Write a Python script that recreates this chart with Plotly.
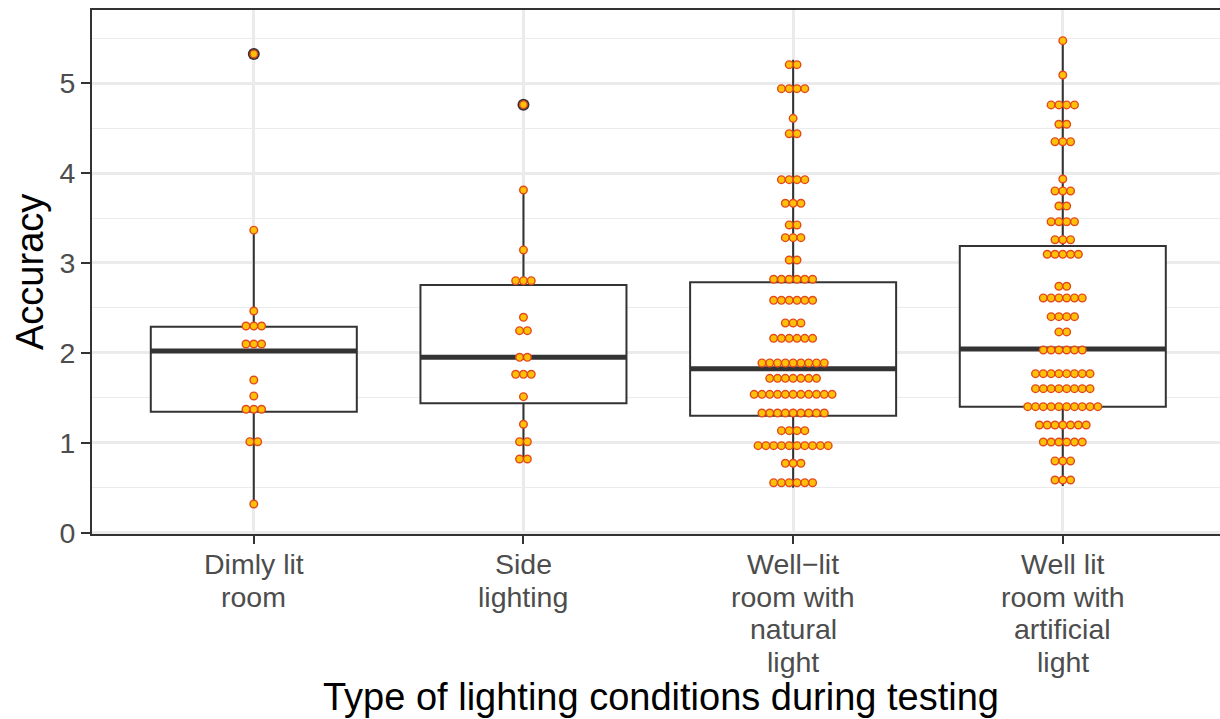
import plotly.graph_objects as go

# Category labels, one entry per text line
category_lines = [
    ["Dimly lit", "room"],
    ["Side", "lighting"],
    ["Well\u2212lit", "room with", "natural", "light"],
    ["Well lit", "room with", "artificial", "light"],
]
category_pos = [1, 2, 3, 4]

# Dot-plot rows: bin level (accuracy) and number of dots stacked in that bin
dim_levels = [5.325, 3.365, 2.466, 2.299, 2.099, 1.698, 1.521, 1.373, 1.012, 0.319]
dim_counts = [1, 1, 1, 3, 3, 1, 1, 3, 2, 1]

side_levels = [4.761, 3.812, 3.145, 2.803, 2.396, 2.247, 1.951, 1.762, 1.513, 1.206, 1.012, 0.820]
side_counts = [1, 1, 1, 3, 1, 2, 2, 3, 1, 1, 2, 2]

natural_levels = [5.206, 4.939, 4.609, 4.438, 3.927, 3.664, 3.423, 3.282, 3.033, 2.819, 2.585,
                  2.333, 2.162, 1.888, 1.717, 1.539, 1.331, 1.135, 0.968, 0.772, 0.556]
natural_counts = [2, 4, 1, 2, 4, 3, 2, 3, 2, 6, 6, 3, 6, 9, 7, 11, 9, 4, 10, 3, 6]

artificial_levels = [5.473, 5.091, 4.758, 4.543, 4.349, 3.934, 3.801, 3.634, 3.459, 3.259, 3.097,
                     2.741, 2.611, 2.403, 2.233, 2.032, 1.769, 1.602, 1.402, 1.198, 1.009, 0.798, 0.586]
artificial_counts = [1, 1, 4, 2, 3, 1, 3, 2, 4, 3, 5, 2, 6, 4, 2, 6, 8, 8, 10, 7, 6, 3, 3]

# Box statistics per category
box_q1 = [1.346, 1.439, 1.302, 1.402]
box_median = [2.021, 1.951, 1.824, 2.043]
box_q3 = [2.290, 2.755, 2.787, 3.189]
box_lower = [0.319, 0.800, 0.500, 0.520]
box_upper = [3.365, 3.830, 5.260, 5.480]

# Outlying observations (category position, value)
outlier_pos = [1, 2]
outlier_value = [5.325, 4.761]

groups = [
    (dim_levels, dim_counts),
    (side_levels, side_counts),
    (natural_levels, natural_counts),
    (artificial_levels, artificial_counts),
]

BOX_WIDTH = 0.764
DOT_STEP = 0.0289          # horizontal distance between neighbouring dots (x units)
INK = "#333333"
GRID = "#EBEBEB"
DOT_FILL = "#FFC107"
DOT_EDGE = "#E2491C"
FONT = "Liberation Sans, Arial, sans-serif"

fig = go.Figure()

# Boxes with whiskers (no caps)
for i, pos in enumerate(category_pos):
    fig.add_trace(go.Box(
        x=[pos], q1=[box_q1[i]], median=[box_median[i]], q3=[box_q3[i]],
        lowerfence=[box_lower[i]], upperfence=[box_upper[i]],
        width=BOX_WIDTH, whiskerwidth=0, fillcolor="white",
        line=dict(color=INK, width=2), boxpoints=False,
        showlegend=False, hoverinfo="skip",
    ))
    # thicker median bar
    fig.add_trace(go.Scatter(
        x=[pos - BOX_WIDTH / 2, pos + BOX_WIDTH / 2], y=[box_median[i], box_median[i]],
        mode="lines", line=dict(color=INK, width=5),
        showlegend=False, hoverinfo="skip",
    ))

# Outlier points
fig.add_trace(go.Scatter(
    x=outlier_pos, y=outlier_value, mode="markers",
    marker=dict(size=12, color=INK, line=dict(width=0)),
    showlegend=False, hoverinfo="skip",
))

# Centre-stacked dots
for pos, (levels, counts) in zip(category_pos, groups):
    xs, ys = [], []
    for lvl, n in zip(levels, counts):
        for k in range(n):
            xs.append(pos + (k - (n - 1) / 2) * DOT_STEP)
            ys.append(lvl)
    fig.add_trace(go.Scatter(
        x=xs, y=ys, mode="markers",
        marker=dict(size=7.6, color=DOT_FILL, line=dict(color=DOT_EDGE, width=1.4)),
        showlegend=False, hoverinfo="skip",
    ))

# Multi-line category labels under the axis
LINE_GAP = 32.7
for pos, lines in zip(category_pos, category_lines):
    for j, txt in enumerate(lines):
        fig.add_annotation(
            x=pos, xref="x", y=0, yref="paper", text=txt, showarrow=False,
            xanchor="center", yanchor="middle", yshift=-30 - j * LINE_GAP,
            font=dict(family=FONT, size=28.5, color="#4D4D4D"),
        )

# Axis titles
fig.add_annotation(
    x=0.5, xref="paper", y=0, yref="paper",
    text="Type of lighting conditions during testing", showarrow=False,
    xanchor="center", yanchor="middle", yshift=-163, xshift=5,
    font=dict(family=FONT, size=38, color="black"),
)
fig.add_annotation(
    x=0, xref="paper", y=0.5, yref="paper", text="Accuracy", showarrow=False,
    textangle=-90, xanchor="center", yanchor="middle", xshift=-62,
    font=dict(family=FONT, size=38, color="black"),
)

fig.update_layout(
    width=1220, height=719,
    margin=dict(l=92, r=0, t=10, b=185),
    paper_bgcolor="white", plot_bgcolor="white",
    font=dict(family=FONT),
    showlegend=False,
    xaxis=dict(
        range=[0.4, 4.583], tickvals=category_pos, showticklabels=False,
        ticks="outside", ticklen=8, tickwidth=2, tickcolor=INK,
        showgrid=True, gridcolor=GRID, gridwidth=2.5, zeroline=False,
        showline=True, linecolor=INK, linewidth=2, mirror=True,
    ),
    yaxis=dict(
        range=[-0.0145, 5.814], tickvals=[0, 1, 2, 3, 4, 5],
        ticks="outside", ticklen=9, tickwidth=2, tickcolor=INK,
        tickfont=dict(family=FONT, size=28.5, color="#4D4D4D"),
        showgrid=True, gridcolor=GRID, gridwidth=2.5, zeroline=False,
        showline=True, linecolor=INK, linewidth=2, mirror=False,
        minor=dict(dtick=0.5, tick0=0, showgrid=True, gridcolor=GRID, gridwidth=1.3, ticks=""),
    ),
)

fig.write_html("out.html")
